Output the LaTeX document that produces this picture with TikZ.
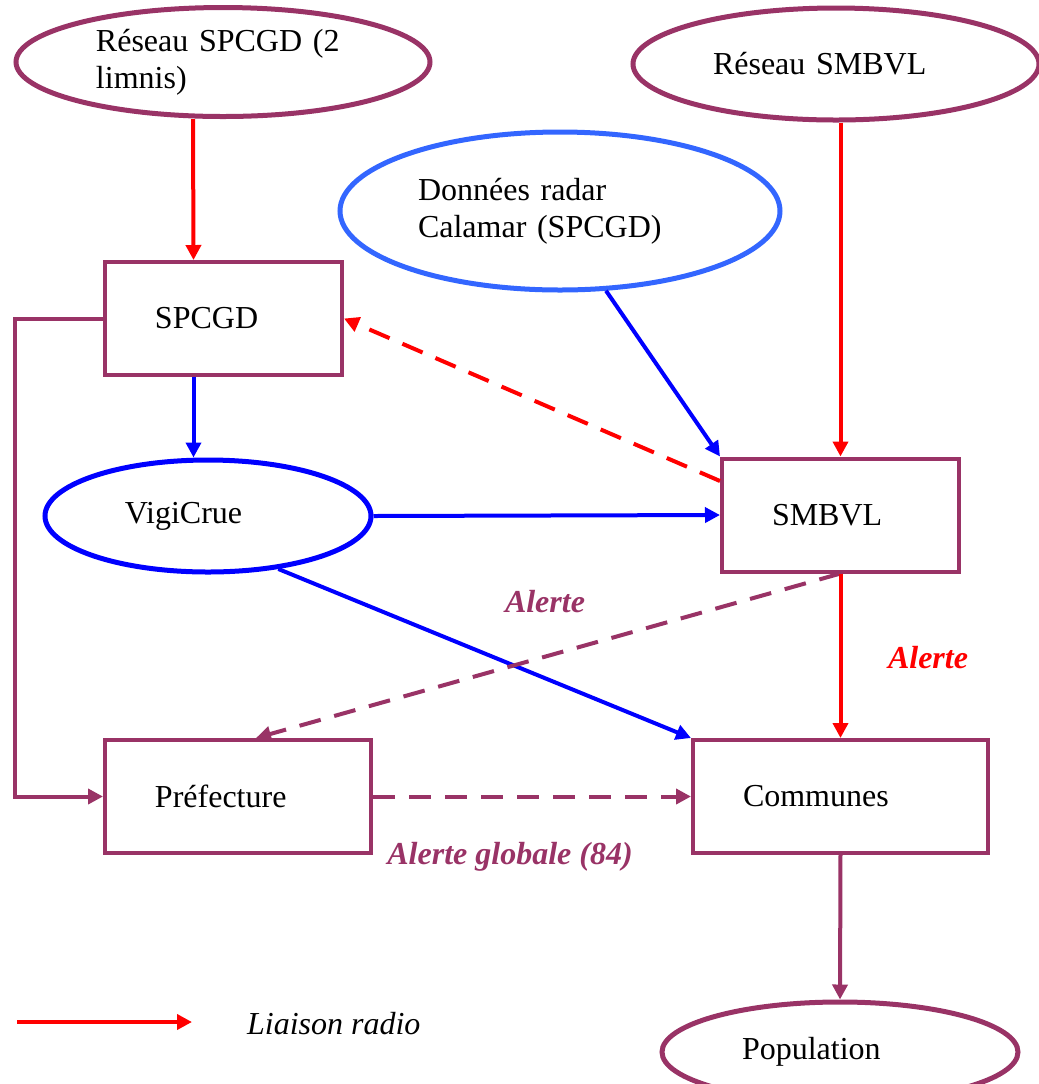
\documentclass[tikz,border=0pt]{standalone}
\usepackage{fontspec}
\setmainfont{Liberation Serif}
\usetikzlibrary{shapes.geometric,arrows.meta}
\definecolor{plum}{RGB}{153,51,102}
\definecolor{radarblue}{RGB}{51,102,255}
\tikzset{
    base/.style = {font=\fontsize{16}{18.5}\selectfont, align=left},
    network/.style = {base, ellipse, draw=plum, line width=2.5pt, inner sep=0pt},
    box/.style = {base, rectangle, draw=plum, line width=2pt, inner xsep=25pt, minimum height=56.5pt},
    tip/.style = {-{Triangle[length=7.5pt,width=7.5pt]}},
    radio/.style = {tip, line width=2pt, draw=red},
    flow/.style = {tip, line width=2pt, draw=blue},
    warn/.style = {tip, line width=2pt, draw=plum},
    gap/.style = {dash pattern=on 11pt off 7pt},
    tag/.style = {font=\fontsize{16}{18.5}\selectfont\bfseries\itshape}
}
\begin{document}
\begin{tikzpicture}[x=0.5pt, y=-0.5pt]
\useasboundingbox (0,0) rectangle (1039,1084);
\node (reseauspcgd) [network, minimum width=207pt, minimum height=54.5pt, text width=127pt] at (223,62) {Réseau SPCGD (2\\limnis)};
\node (reseausmbvl) [network, minimum width=203pt, minimum height=56pt, text width=123pt] at (836,64) {Réseau SMBVL};
\node (radar) [network, draw=radarblue, minimum width=220pt, minimum height=79pt, text width=142pt] at (560,211) {Données radar\\Calamar (SPCGD)};
\node (spcgd) [box, text width=68.5pt] at (223.5,318.5) {SPCGD};
\node (vigicrue) [network, draw=blue, minimum width=163pt, minimum height=56pt, text width=83pt] at (208,516) {VigiCrue};
\node (smbvl) [box, text width=68.5pt] at (840.5,515) {SMBVL};
\node (prefecture) [box, text width=83pt] at (238,796.5) {Préfecture};
\node (communes) [box, text width=97.5pt] at (840.5,796.5) {Communes};
\node (population) [network, minimum width=178pt, minimum height=50pt, text width=98pt] at (840,1052) {Population};

\node (alerte1) [tag, text=plum] at (545,602) {Alerte};
\node (alerte2) [tag, text=red] at (928,658) {Alerte};
\node (alerte3) [tag, text=plum] at (510,857) {Alerte globale (84)};

\coordinate (legA) at (17,1022);
\coordinate (legB) at (192,1022);
\node (legend) [base, font=\fontsize{16}{18.5}\selectfont\itshape, anchor=west] at (240,1024) {Liaison radio};

\draw [radio] ([xshift=-15pt]reseauspcgd.south) -- ([xshift=-15pt]spcgd.north);
\draw [radio] (reseausmbvl.south -| smbvl.north) -- (smbvl.north);
\draw [flow] ([xshift=-15pt]spcgd.south) -- ([xshift=-15pt]spcgd.south |- vigicrue.north);
\draw [flow] (radar.-60) -- (smbvl.north west);
\draw [radio, gap] ([yshift=17pt]smbvl.west) -- (spcgd.east);
\draw [flow] (vigicrue.east) -- (smbvl.west);
\draw [flow] (vigicrue.-37) -- (communes.north west);
\draw [warn, gap] (smbvl.south) -- ([xshift=9pt]prefecture.north);
\draw [radio] (smbvl.south) -- (communes.north);
\draw [warn] (spcgd.west) -- ++(-44pt,0) |- (prefecture.west);
\draw [warn, gap] (prefecture.east) -- (communes.west);
\draw [warn] (communes.south) -- (population.north);
\draw [radio] (legA) -- (legB);
\end{tikzpicture}
\end{document}
